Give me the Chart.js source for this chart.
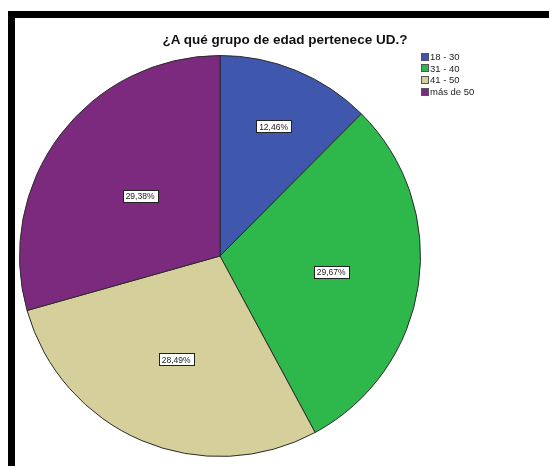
<!DOCTYPE html>
<html lang="es">
<head>
  <meta charset="UTF-8">
  <title>Grupo de edad</title>
  <script src="https://cdn.jsdelivr.net/npm/chart.js"></script>
  <style>
    html, body { margin: 0; padding: 0; background: #fff; }
    body { width: 549px; height: 466px; position: relative; overflow: hidden; font-family: "Liberation Sans", Arial, sans-serif; }
    .frame {
      position: absolute; left: 8px; top: 11px; right: 0; bottom: 0;
      border-left: 7px solid #000; border-top: 7px solid #000;
    }
    .chart-box { position: absolute; left: 15px; top: 18px; width: 534px; height: 448px; }
    .title {
      position: absolute; left: 15px; width: 534px; top: 32px;
      text-align: center; font-size: 13.5px; font-weight: bold; color: #111; white-space: nowrap;
      padding-left: 6px; box-sizing: border-box;
    }
    .legend { position: absolute; left: 421px; top: 51px; font-size: 9.5px; color: #222; }
    .legend div { height: 11.7px; line-height: 11.7px; white-space: nowrap; }
    .legend span {
      display: inline-block; width: 6px; height: 6px; border: 1px solid #555;
      margin-right: 1px; vertical-align: -0.5px;
    }
  </style>
</head>
<body>
  <div class="frame"></div>
  <div class="chart-box"><canvas id="pieChart"></canvas></div>
  <div class="title" id="title"></div>
  <div class="legend" id="legend"></div>

  <script>
    // Datos
    const titulo = '¿A qué grupo de edad pertenece UD.?';
    const grupos = ['18 - 30', '31 - 40', '41 - 50', 'más de 50'];
    const porcentajes = [12.46, 29.67, 28.49, 29.38];
    const colores = ['#3f58ad', '#2eb84c', '#d4cf9b', '#7c2a7e'];

    document.getElementById('title').textContent = titulo;

    // Leyenda
    const legend = document.getElementById('legend');
    grupos.forEach((g, i) => {
      const row = document.createElement('div');
      const sq = document.createElement('span');
      sq.style.background = colores[i];
      row.appendChild(sq);
      row.appendChild(document.createTextNode(g));
      legend.appendChild(row);
    });

    // Etiquetas de porcentaje en cajas blancas
    const etiquetas = {
      id: 'etiquetas',
      afterDatasetsDraw(chart, args, opts) {
        const ctx = chart.ctx;
        const meta = chart.getDatasetMeta(0);
        ctx.save();
        ctx.font = '8.5px "Liberation Sans", Arial, sans-serif';
        ctx.textAlign = 'center';
        ctx.textBaseline = 'middle';
        meta.data.forEach((arc, i) => {
          const p = arc.getProps(['x', 'y', 'startAngle', 'endAngle', 'outerRadius'], true);
          const mid = (p.startAngle + p.endAngle) / 2;
          const r = p.outerRadius * opts.dist[i];
          const x = p.x + Math.cos(mid) * r;
          const y = p.y + Math.sin(mid) * r;
          const txt = porcentajes[i].toFixed(2).replace('.', ',') + '%';
          const w = ctx.measureText(txt).width + 6;
          const h = 12;
          ctx.fillStyle = '#fff';
          ctx.fillRect(Math.round(x - w / 2) + 0.5, Math.round(y - h / 2) + 0.5, Math.round(w), h);
          ctx.strokeStyle = '#222';
          ctx.lineWidth = 1;
          ctx.strokeRect(Math.round(x - w / 2) + 0.5, Math.round(y - h / 2) + 0.5, Math.round(w), h);
          ctx.fillStyle = '#222';
          ctx.fillText(txt, x, y + 1);
        });
        ctx.restore();
      }
    };

    new Chart(document.getElementById('pieChart'), {
      type: 'pie',
      data: {
        labels: grupos,
        datasets: [{
          data: porcentajes,
          backgroundColor: colores,
          borderColor: '#2b2b2b',
          borderWidth: 1
        }]
      },
      options: {
        responsive: true,
        maintainAspectRatio: false,
        animation: false,
        layout: { padding: { left: 4, top: 36, right: 128, bottom: 8 } },
        plugins: {
          legend: { display: false },
          title: { display: false },
          tooltip: { enabled: false },
          etiquetas: { dist: [0.7, 0.56, 0.56, 0.5] }
        }
      },
      plugins: [etiquetas]
    });
  </script>
</body>
</html>
